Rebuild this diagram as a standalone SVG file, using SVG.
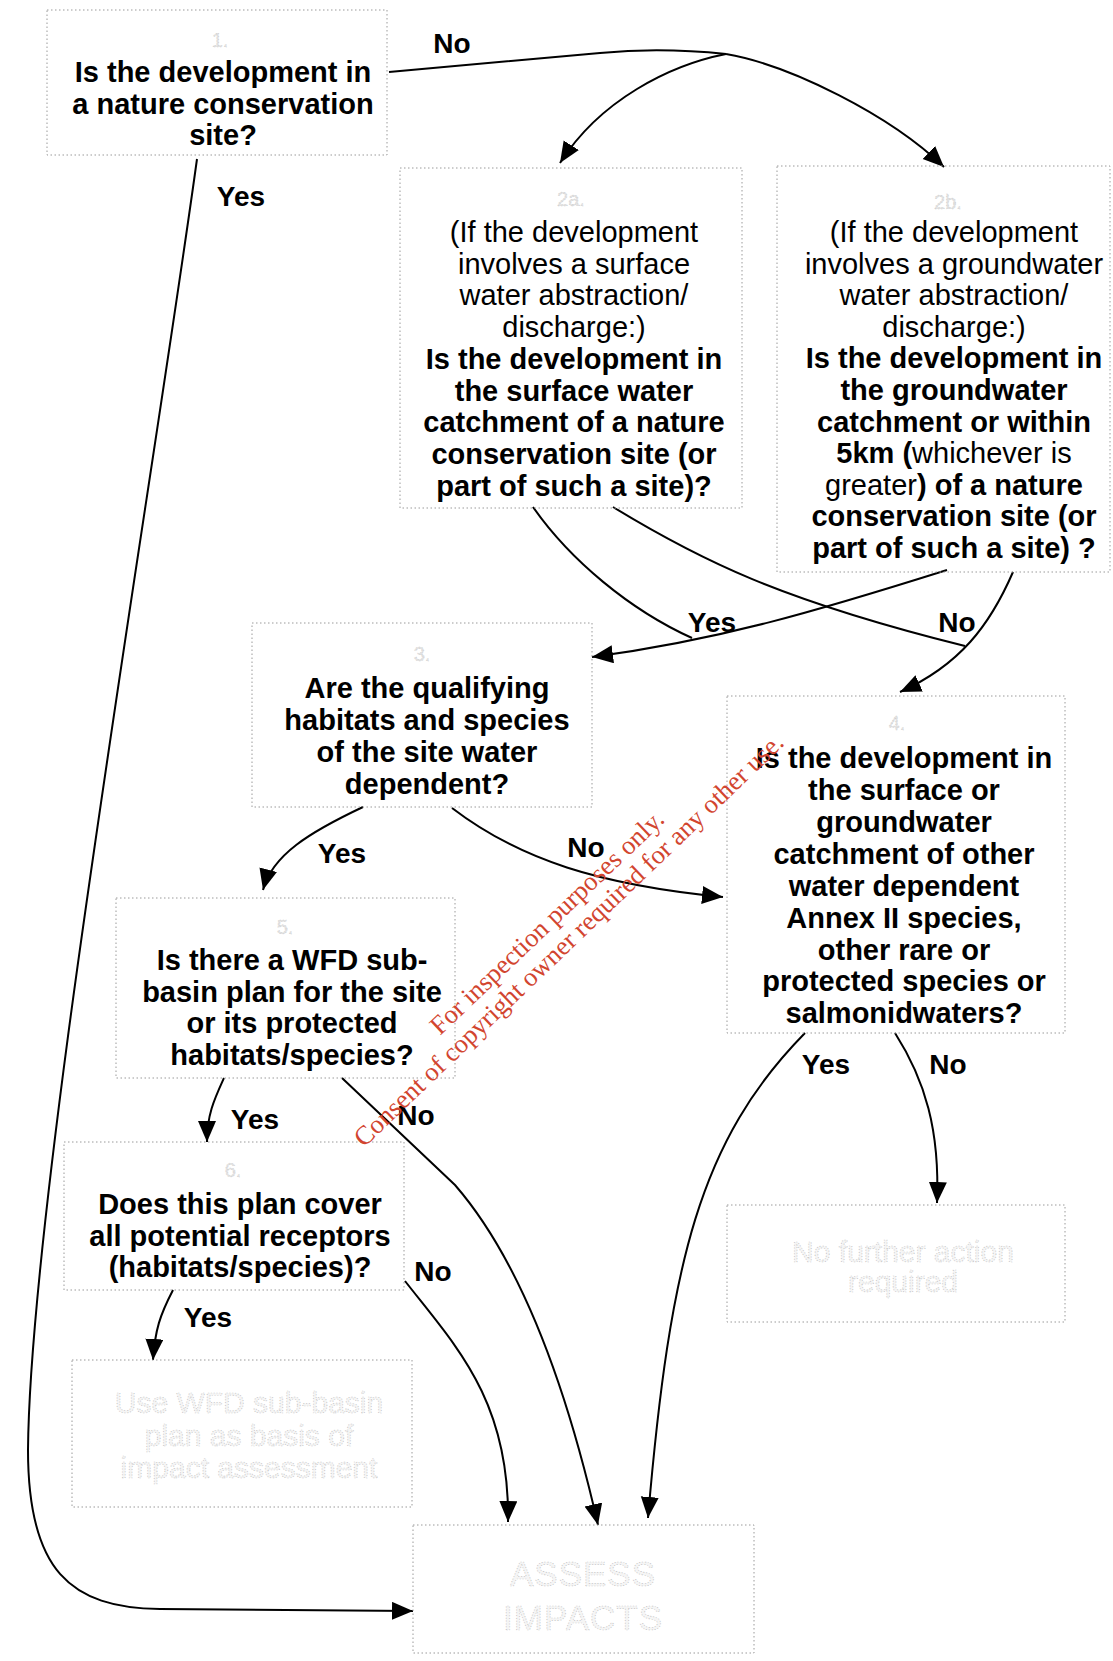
<svg xmlns="http://www.w3.org/2000/svg" width="1113" height="1661" viewBox="0 0 1113 1661">
<style>
.box{fill:none;stroke:#9a9a9a;stroke-width:1;stroke-dasharray:1.5 2.5}
.b{font-family:"Liberation Sans",Arial,sans-serif;font-size:29px;font-weight:bold;fill:#000;text-anchor:middle}
.r{font-weight:normal}
.num{font-family:"Liberation Sans",Arial,sans-serif;font-size:20px;fill:#e2e2e2;stroke:#c4c4c4;stroke-width:0.5;stroke-dasharray:1 2;text-anchor:middle}
.faint{font-family:"Liberation Sans",Arial,sans-serif;font-size:30px;fill:#f5f5f5;stroke:#bcbcbc;stroke-width:0.7;stroke-dasharray:1 1.8;text-anchor:middle}
.lbl{font-family:"Liberation Sans",Arial,sans-serif;font-size:28px;font-weight:bold;fill:#000;text-anchor:middle}
.wm{font-family:"Liberation Serif","Times New Roman",serif;font-size:26.5px;fill:#d2452f}
.c{fill:none;stroke:#000;stroke-width:2}
</style>
<defs>
<marker id="ah" markerUnits="userSpaceOnUse" markerWidth="24" markerHeight="20" refX="21" refY="9" orient="auto">
<path d="M0,0 L21,9 L0,18 z" fill="#000"/>
</marker>
</defs>

<g id="connectors">
<path class="c" d="M389,72 L600,53 Q660,47 726,54"/>
<path class="c" d="M726,54 C790,65 890,115 944,167" marker-end="url(#ah)"/>
<path class="c" d="M726,54 C670,65 600,100 560,163" marker-end="url(#ah)"/>
<path class="c" d="M197,159 C150,500 30,1200 28,1450 C28,1570 70,1608 160,1609 L413,1611" marker-end="url(#ah)"/>
<path class="c" d="M533,507 C570,560 630,610 692,638"/>
<path class="c" d="M947,570 C820,610 720,640 592,657" marker-end="url(#ah)"/>
<path class="c" d="M613,507 C700,560 780,600 965,646"/>
<path class="c" d="M1013,572 C990,625 960,665 900,692" marker-end="url(#ah)"/>
<path class="c" d="M363,807 C310,832 272,855 263,890" marker-end="url(#ah)"/>
<path class="c" d="M452,808 C520,860 600,885 723,897" marker-end="url(#ah)"/>
<path class="c" d="M224,1078 C214,1100 207,1115 207,1142" marker-end="url(#ah)"/>
<path class="c" d="M342,1078 L455,1185 C520,1260 565,1380 598,1525" marker-end="url(#ah)"/>
<path class="c" d="M173,1290 C160,1315 155,1330 153,1360" marker-end="url(#ah)"/>
<path class="c" d="M405,1281 C455,1345 510,1400 508,1522" marker-end="url(#ah)"/>
<path class="c" d="M805,1033 C700,1140 670,1260 648,1518" marker-end="url(#ah)"/>
<path class="c" d="M895,1033 C925,1080 940,1130 937,1203" marker-end="url(#ah)"/>
<text class="lbl" x="452" y="53">No</text>
<text class="lbl" x="241" y="206">Yes</text>
<text class="lbl" x="712" y="632">Yes</text>
<text class="lbl" x="957" y="632">No</text>
<text class="lbl" x="342" y="863">Yes</text>
<text class="lbl" x="586" y="857">No</text>
<text class="lbl" x="255" y="1129">Yes</text>
<text class="lbl" x="416" y="1125">No</text>
<text class="lbl" x="208" y="1327">Yes</text>
<text class="lbl" x="433" y="1281">No</text>
<text class="lbl" x="826" y="1074">Yes</text>
<text class="lbl" x="948" y="1074">No</text>
</g>

<g id="node1">
<rect class="box" x="47" y="10" width="340" height="145"/>
<text class="num" x="220" y="47">1.</text>
<text class="b"><tspan x="223" y="82">Is the development in</tspan><tspan x="223" y="113.5">a nature conservation</tspan><tspan x="223" y="145">site?</tspan></text>
</g>

<g id="node2a">
<rect class="box" x="400" y="168" width="342" height="340"/>
<text class="num" x="571" y="206">2a.</text>
<text class="b r"><tspan x="574" y="242">(If the development</tspan><tspan x="574" y="273.7">involves a surface</tspan><tspan x="574" y="305.4">water abstraction/</tspan><tspan x="574" y="337.1">discharge:)</tspan></text>
<text class="b"><tspan x="574" y="368.8">Is the development in</tspan><tspan x="574" y="400.5">the surface water</tspan><tspan x="574" y="432.2">catchment of a nature</tspan><tspan x="574" y="463.9">conservation site (or</tspan><tspan x="574" y="495.6">part of such a site)?</tspan></text>
</g>

<g id="node2b">
<rect class="box" x="777" y="166" width="333" height="406"/>
<text class="num" x="948" y="209">2b.</text>
<text class="b r"><tspan x="954" y="242">(If the development</tspan><tspan x="954" y="273.6">involves a groundwater</tspan><tspan x="954" y="305.2">water abstraction/</tspan><tspan x="954" y="336.8">discharge:)</tspan></text>
<text class="b"><tspan x="954" y="368.4">Is the development in</tspan><tspan x="954" y="400">the groundwater</tspan><tspan x="954" y="431.6">catchment or within</tspan><tspan x="954" y="463.2">5km (<tspan class="r">whichever is</tspan></tspan><tspan x="954" y="494.8"><tspan class="r">greater</tspan>) of a nature</tspan><tspan x="954" y="526.4">conservation site (or</tspan><tspan x="954" y="558">part of such a site) ?</tspan></text>
</g>

<g id="node3">
<rect class="box" x="252" y="623" width="340" height="184"/>
<text class="num" x="422" y="661">3.</text>
<text class="b"><tspan x="427" y="698">Are the qualifying</tspan><tspan x="427" y="730">habitats and species</tspan><tspan x="427" y="762">of the site water</tspan><tspan x="427" y="794">dependent?</tspan></text>
</g>

<g id="node4">
<rect class="box" x="727" y="696" width="338" height="337"/>
<text class="num" x="897" y="730">4.</text>
<text class="b"><tspan x="904" y="768">Is the development in</tspan><tspan x="904" y="800">the surface or</tspan><tspan x="904" y="832">groundwater</tspan><tspan x="904" y="864">catchment of other</tspan><tspan x="904" y="896">water dependent</tspan><tspan x="904" y="928">Annex II species,</tspan><tspan x="904" y="960">other rare or</tspan><tspan x="904" y="991">protected species or</tspan><tspan x="904" y="1023">salmonidwaters?</tspan></text>
</g>

<g id="node5">
<rect class="box" x="116" y="898" width="339" height="180"/>
<text class="num" x="285" y="934">5.</text>
<text class="b"><tspan x="292" y="970">Is there a WFD sub-</tspan><tspan x="292" y="1001.5">basin plan for the site</tspan><tspan x="292" y="1033">or its protected</tspan><tspan x="292" y="1064.5">habitats/species?</tspan></text>
</g>

<g id="node6">
<rect class="box" x="64" y="1142" width="340" height="148"/>
<text class="num" x="233" y="1177">6.</text>
<text class="b"><tspan x="240" y="1214">Does this plan cover</tspan><tspan x="240" y="1245.5">all potential receptors</tspan><tspan x="240" y="1277">(habitats/species)?</tspan></text>
</g>

<g id="node-usewfd">
<rect class="box" x="72" y="1360" width="340" height="147"/>
<text class="faint"><tspan x="249" y="1413">Use WFD sub-basin</tspan><tspan x="249" y="1446">plan as basis of</tspan><tspan x="249" y="1478">impact assessment</tspan></text>
</g>

<g id="node-nofurther">
<rect class="box" x="727" y="1205" width="338" height="117"/>
<text class="faint"><tspan x="903" y="1262">No further action</tspan><tspan x="903" y="1292">required</tspan></text>
</g>

<g id="node-assess">
<rect class="box" x="413" y="1525" width="341" height="128"/>
<text class="faint" style="font-size:35px;letter-spacing:1px"><tspan x="583" y="1586">ASSESS</tspan><tspan x="583" y="1630">IMPACTS</tspan></text>
</g>

<g id="watermark">
<text class="wm" x="440" y="1036" transform="rotate(-43.6 440 1036)">For inspection purposes only.</text>
<text class="wm" x="364" y="1148" transform="rotate(-43.8 364 1148)">Consent of copyright owner required for any other use.</text>
</g>
</svg>
